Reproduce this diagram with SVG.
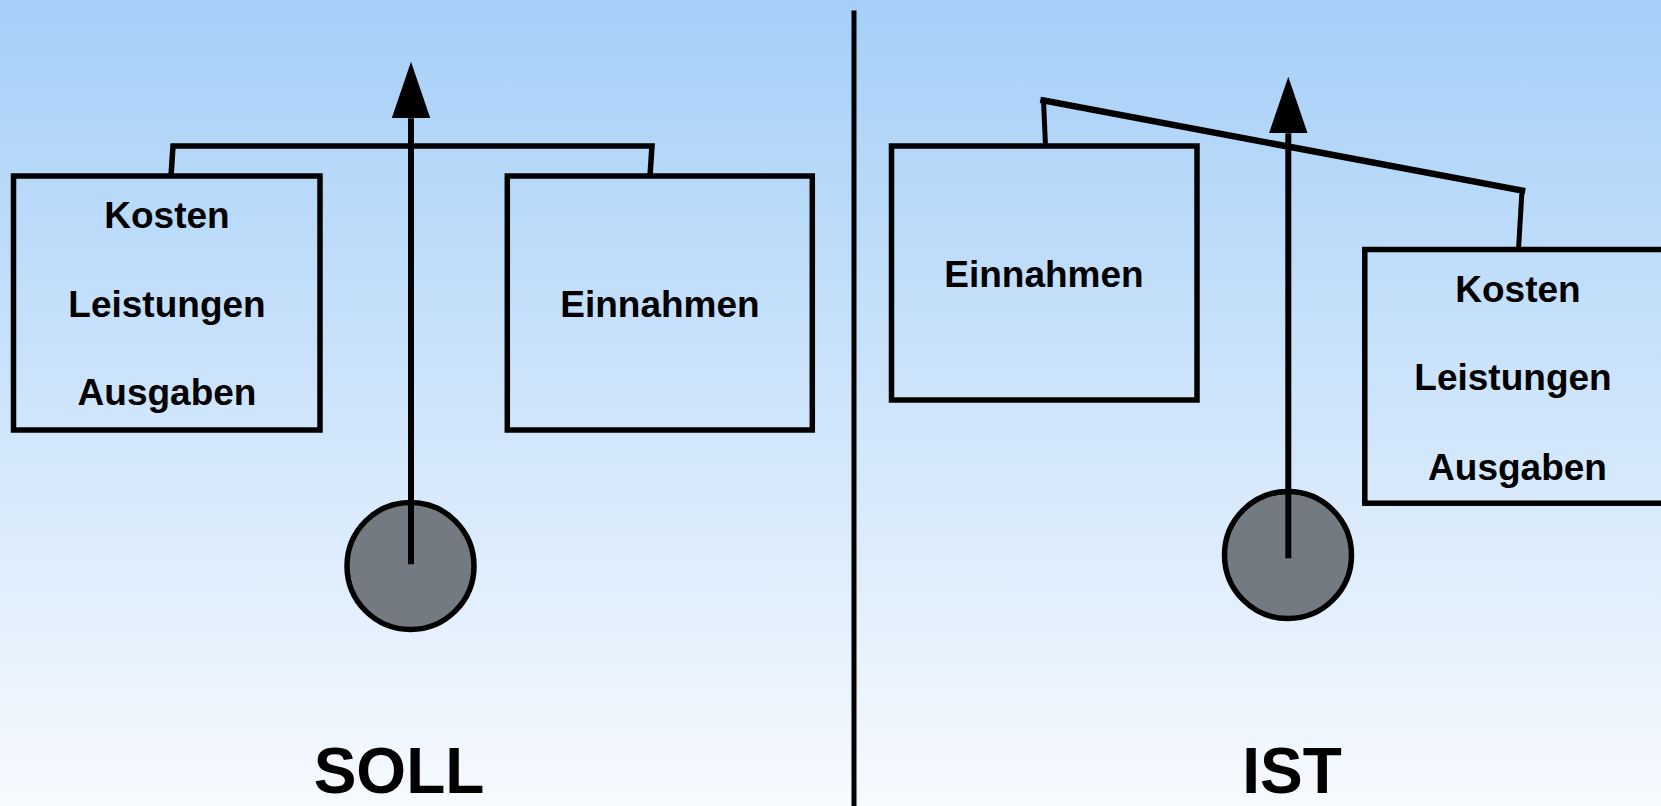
<svg xmlns="http://www.w3.org/2000/svg" width="1661" height="806" viewBox="0 0 1661 806">
<style>
.box{fill:none;stroke:#000;stroke-width:5.5}
.lbl{font-family:"Liberation Sans",Arial,sans-serif;font-weight:bold;font-size:37px;fill:#000;text-anchor:middle}
.ttl{font-family:"Liberation Sans",Arial,sans-serif;font-weight:bold;font-size:64px;fill:#000;text-anchor:middle}
.weight{fill:#747a81;stroke:#000;stroke-width:5.5}
.beam{fill:none;stroke:#000;stroke-width:5.5;stroke-linejoin:miter}
.pole{stroke:#000;stroke-width:6;marker-end:url(#arr)}
</style>
<defs>
<linearGradient id="bg" x1="0" y1="0" x2="0" y2="1">
<stop offset="0" stop-color="#a5cff8"/>
<stop offset="1" stop-color="#f7fafe"/>
</linearGradient>
<marker id="arr" markerUnits="userSpaceOnUse" markerWidth="60" markerHeight="42" viewBox="0 -21 60 42" refX="0" refY="0" orient="auto">
<path d="M0,-19.3 L56.6,0 L0,19.3 z" fill="#000"/>
</marker>
</defs>
<rect x="0" y="0" width="1661" height="806" fill="url(#bg)"/>
<line x1="854" y1="10.5" x2="854" y2="806" stroke="#000" stroke-width="5"/>

<g id="soll-weight"><circle class="weight" cx="410.5" cy="566" r="63.5"/></g>
<g id="ist-weight"><circle class="weight" cx="1288" cy="555" r="63.5"/></g>

<g id="connectors">
<polyline class="beam" points="171,176 173,146 652,146 650,176"/>
<line class="pole" x1="411" y1="564.3" x2="411" y2="118.3"/>
<line x1="1045.5" y1="146" x2="1043.5" y2="100.5" stroke="#000" stroke-width="5"/>
<line x1="1522" y1="190.5" x2="1518.5" y2="249.5" stroke="#000" stroke-width="5"/>
<line x1="1043.5" y1="100.5" x2="1522" y2="190.5" stroke="#000" stroke-width="6.5" stroke-linecap="square"/>
<line class="pole" x1="1288.3" y1="558.3" x2="1288.3" y2="133.3"/>
</g>

<g id="soll-kosten">
<rect class="box" x="13.5" y="176" width="306.5" height="254"/>
<text class="lbl" x="167" y="228.3">Kosten</text>
<text class="lbl" x="167" y="316.7">Leistungen</text>
<text class="lbl" x="167" y="405">Ausgaben</text>
</g>
<g id="soll-einnahmen">
<rect class="box" x="507.3" y="176" width="305" height="254"/>
<text class="lbl" x="660" y="316.7">Einnahmen</text>
</g>
<g id="ist-einnahmen">
<rect class="box" x="891.5" y="146" width="305.5" height="254"/>
<text class="lbl" x="1044" y="286.7">Einnahmen</text>
</g>
<g id="ist-kosten">
<rect class="box" x="1364.8" y="249.5" width="306" height="253.7"/>
<text class="lbl" x="1518" y="301.7">Kosten</text>
<text class="lbl" x="1513" y="389.5">Leistungen</text>
<text class="lbl" x="1517.5" y="480">Ausgaben</text>
</g>

<g id="soll-title"><text class="ttl" x="399" y="792.5">SOLL</text></g>
<g id="ist-title"><text class="ttl" x="1292" y="792.5">IST</text></g>
</svg>
